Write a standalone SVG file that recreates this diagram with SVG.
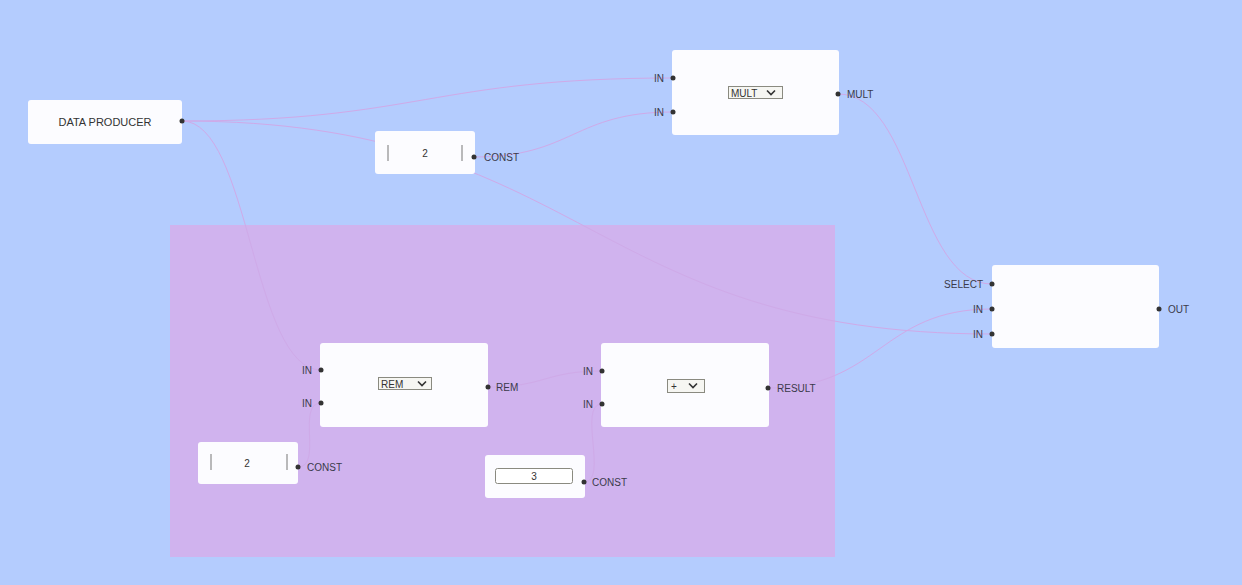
<svg xmlns="http://www.w3.org/2000/svg" width="1242" height="585" viewBox="0 0 1242 585">
<style>
.node{fill:#fcfcff;}
.lbl{font-family:"Liberation Sans",Arial,sans-serif;font-size:10px;fill:#3a3a4a;}
.title{font-family:"Liberation Sans",Arial,sans-serif;font-size:11px;fill:#333;}
.val{font-family:"Liberation Sans",Arial,sans-serif;font-size:10px;fill:#333;}
.port{fill:#333;}
.wire{fill:none;stroke:#cfaae8;stroke-width:1;}
.sel{fill:#f6f6f2;stroke:#8a8a80;stroke-width:1;}
.bar{stroke:#777;stroke-width:1;}
.box{fill:#fff;stroke:#8a8a80;stroke-width:1;}
.chev{fill:none;stroke:#333;stroke-width:1.6;}
</style>
<rect x="0" y="0" width="1242" height="585" fill="#b4ccfe"/>
<g id="group-box">
<rect x="170" y="225" width="665" height="332" fill="#d0b3ee"/>
</g>
<g id="connectors">
<path class="wire" d="M182,121 C420,121 430,78 673,78"/>
<path class="wire" d="M182,121 C587,121 587,334 992,334"/>
<path class="wire" d="M182,121 C250,121 252,370 321,370"/>
<path class="wire" d="M474,157 C573,157 573,112 673,112"/>
<path class="wire" d="M838,94 C915,94 915,284 992,284"/>
<path class="wire" d="M768,388 C880,388 880,309 992,309"/>
<path class="wire" d="M488,387 C545,387 545,371 602,371"/>
<path class="wire" d="M298,467 C323,467 296,403 321,403"/>
<path class="wire" d="M584,482 C609,482 577,404 602,404"/>
</g>
<g id="data-producer">
<rect class="node" x="28" y="100" width="154" height="44" rx="3"/>
<text class="title" x="105" y="126" text-anchor="middle">DATA PRODUCER</text>
<circle class="port" cx="182" cy="121" r="2.5"/>
</g>
<g id="const-top">
<rect class="node" x="375" y="131" width="100" height="43" rx="3"/>
<line class="bar" x1="388" y1="145" x2="388" y2="161"/>
<line class="bar" x1="462" y1="145" x2="462" y2="161"/>
<text class="val" x="425" y="157" text-anchor="middle">2</text>
<circle class="port" cx="474" cy="157" r="2.5"/>
<text class="lbl" x="484" y="161">CONST</text>
</g>
<g id="mult">
<rect class="node" x="672" y="50" width="167" height="85" rx="3"/>
<circle class="port" cx="673" cy="78" r="2.5"/>
<text class="lbl" x="664" y="82" text-anchor="end">IN</text>
<circle class="port" cx="673" cy="112" r="2.5"/>
<text class="lbl" x="664" y="116" text-anchor="end">IN</text>
<rect class="sel" x="728.500" y="86.500" width="54" height="12"/>
<text class="val" x="731" y="96.500">MULT</text>
<polyline class="chev" points="767,90.500 771,94.500 775,90.500"/>
<circle class="port" cx="838" cy="94" r="2.5"/>
<text class="lbl" x="847" y="98">MULT</text>
</g>
<g id="select">
<rect class="node" x="992" y="265" width="167" height="83" rx="3"/>
<circle class="port" cx="992" cy="284" r="2.5"/>
<text class="lbl" x="983" y="288" text-anchor="end">SELECT</text>
<circle class="port" cx="992" cy="309" r="2.5"/>
<text class="lbl" x="983" y="313" text-anchor="end">IN</text>
<circle class="port" cx="992" cy="334" r="2.5"/>
<text class="lbl" x="983" y="338" text-anchor="end">IN</text>
<circle class="port" cx="1159" cy="309" r="2.5"/>
<text class="lbl" x="1168" y="313">OUT</text>
</g>
<g id="rem">
<rect class="node" x="320" y="343" width="168" height="84" rx="3"/>
<circle class="port" cx="321" cy="370" r="2.5"/>
<text class="lbl" x="312" y="374" text-anchor="end">IN</text>
<circle class="port" cx="321" cy="403" r="2.5"/>
<text class="lbl" x="312" y="407" text-anchor="end">IN</text>
<rect class="sel" x="378.500" y="377.500" width="53" height="12"/>
<text class="val" x="381" y="387.500">REM</text>
<polyline class="chev" points="418,381.500 422,385.500 426,381.500"/>
<circle class="port" cx="488" cy="387" r="2.5"/>
<text class="lbl" x="496" y="391">REM</text>
</g>
<g id="plus">
<rect class="node" x="601" y="343" width="168" height="84" rx="3"/>
<circle class="port" cx="602" cy="371" r="2.5"/>
<text class="lbl" x="593" y="375" text-anchor="end">IN</text>
<circle class="port" cx="602" cy="404" r="2.5"/>
<text class="lbl" x="593" y="408" text-anchor="end">IN</text>
<rect class="sel" x="667.500" y="379.500" width="37" height="13"/>
<text class="val" x="671" y="390">+</text>
<polyline class="chev" points="689,383.500 693,387.500 697,383.500"/>
<circle class="port" cx="768" cy="388" r="2.5"/>
<text class="lbl" x="777" y="392">RESULT</text>
</g>
<g id="const-lower">
<rect class="node" x="198" y="442" width="100" height="42" rx="3"/>
<line class="bar" x1="211" y1="454" x2="211" y2="470"/>
<line class="bar" x1="287" y1="454" x2="287" y2="470"/>
<text class="val" x="247" y="467" text-anchor="middle">2</text>
<circle class="port" cx="298" cy="467" r="2.5"/>
<text class="lbl" x="307" y="471">CONST</text>
</g>
<g id="const-three">
<rect class="node" x="485" y="455" width="100" height="43" rx="3"/>
<rect class="box" x="495.500" y="468.500" width="77" height="15" rx="2"/>
<text class="val" x="534" y="480" text-anchor="middle">3</text>
<circle class="port" cx="584" cy="482" r="2.5"/>
<text class="lbl" x="592" y="486">CONST</text>
</g>
</svg>
